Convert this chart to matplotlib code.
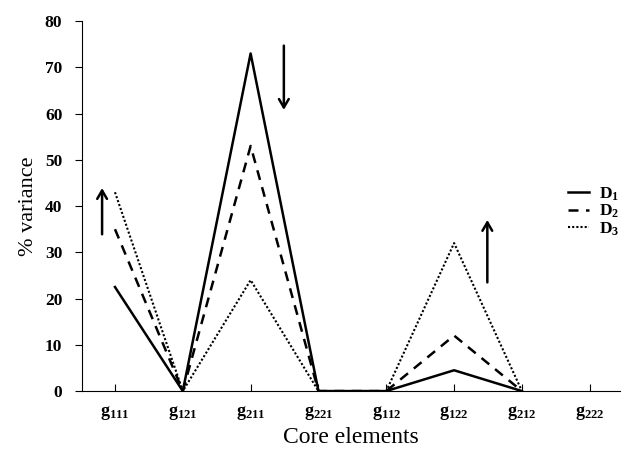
import matplotlib
matplotlib.use("Agg")
import matplotlib.pyplot as plt
import numpy as np

cats = ['111', '121', '211', '221', '112', '122', '212', '222']
d1 = [22.5, 0, 73, 0, 0, 4.5, 0, 0]
d2 = [35, 0, 53, 0, 0, 12, 0, 0]
d3 = [43, 0, 24, 0, 0, 32, 0, 0]
yticks = [0, 10, 20, 30, 40, 50, 60, 70, 80]

plt.rcParams['font.family'] = 'Liberation Serif'
plt.rcParams['mathtext.fontset'] = 'custom'
plt.rcParams['mathtext.rm'] = 'Liberation Serif'
plt.rcParams['mathtext.bf'] = 'Liberation Serif:bold'

fig = plt.figure(figsize=(6.24, 4.59), dpi=100)
ax = fig.add_axes([0.131, 0.148, 0.863, 0.806])

x = np.arange(len(cats))
ax.plot(x[:7], d1[:7], color='black', lw=1.8, ls='-', label=r'$\mathbf{D_1}$')
ax.plot(x[:7], d2[:7], color='black', lw=1.8, ls=(0, (4, 3)), label=r'$\mathbf{D_2}$')
ax.plot(x[:7], d3[:7], color='black', lw=1.5, ls=(0, (1, 1)), label=r'$\mathbf{D_3}$')

ax.set_xlim(-0.49, 7.45)
ax.set_ylim(0, 80)
ax.set_yticks(yticks)
ax.set_xticks(x)
ax.set_xticklabels([r'$\mathbf{g_{%s}}$' % c for c in cats], fontsize=13)
ax.tick_params(axis='x', direction='in', length=5, pad=9)
ax.tick_params(axis='y', direction='out', length=5, labelsize=12.5, pad=9)
for lab in ax.get_yticklabels():
    lab.set_fontweight('bold')
for s in ['top', 'right']:
    ax.spines[s].set_visible(False)
ax.set_xlabel('Core elements', fontsize=17, labelpad=4)
ax.set_ylabel('% variance', fontsize=16, labelpad=5)

arrow = dict(arrowstyle='->,head_width=0.35,head_length=0.6', color='black', lw=1.8)
ax.annotate('', xy=(-0.19, 44.5), xytext=(-0.19, 33.3), arrowprops=arrow)
ax.annotate('', xy=(2.49, 60.2), xytext=(2.49, 75.3), arrowprops=arrow)
ax.annotate('', xy=(5.49, 37.6), xytext=(5.49, 22.9), arrowprops=arrow)

fig.legend(loc='upper left', bbox_to_anchor=(0.885, 0.63), frameon=False,
           handlelength=1.2, handletextpad=0.6, labelspacing=0.0, fontsize=12.5)

fig.savefig('out.png', dpi=100)
